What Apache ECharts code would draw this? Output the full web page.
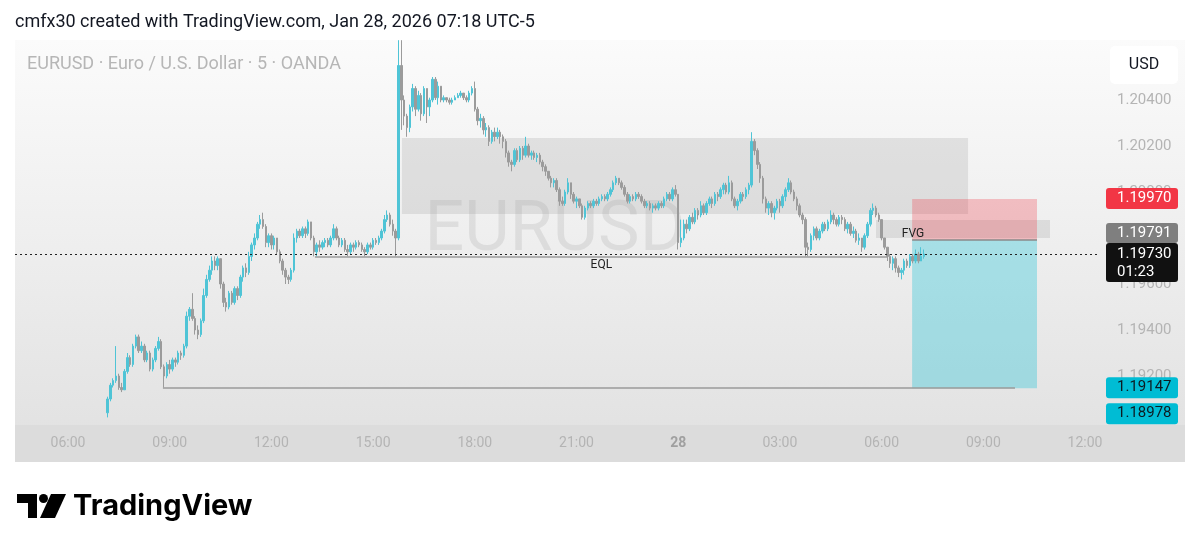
<!DOCTYPE html>
<html><head><meta charset="utf-8">
<script src="https://cdn.jsdelivr.net/npm/echarts@6/dist/echarts.min.js"></script>
<style>html,body{margin:0;padding:0;background:#fff;}#c{width:1200px;height:551px;}</style>
</head><body><div id="c"></div>
<script>
// ---- DATA (EURUSD 5-minute candles, prices stored as pips above BASE) ----
const BASE = 1.19, PIP = 0.0001;
const START_MIN = 430;      // first candle: Jan 27 07:10 (minutes from Jan 27 00:00)
const STEP_MIN = 5;
const firstOpenPips = 4;
const closePips = [
10,16,18,20,15,14,22,28,25,33,37,31,
33,27,30,23,27,32,35,24,20,25,23,27,
26,30,29,33,46,49,45,40,38,44,55,62,
66,70,68,71,60,52,50,56,52,58,55,63,
67,65,72,77,80,86,88,85,78,81,77,80,
74,70,66,63,62,66,80,83,81,84,82,87,
80,74,77,76,78,79,77,80,84,80,77,79,
75,74,77,76,78,77,75,74,77,76,79,78,
80,83,88,90,86,83,80,155,140,133,128,137,
145,136,142,134,145,137,140,149,141,146,140,141,
140,139,140,141,142,143,141,140,143,145,136,131,
132,127,128,122,126,124,126,124,122,117,113,112,
118,114,119,116,120,116,117,115,116,113,111,109,
106,104,105,101,96,95,100,104,99,96,97,94,
89,93,95,94,96,95,97,98,97,99,101,104,
106,104,102,99,96,98,97,99,98,96,94,95,
93,94,93,95,94,97,99,97,101,99,78,80,
86,84,89,87,92,90,94,91,95,97,95,99,
98,101,103,100,104,97,94,96,99,98,101,103,
122,118,112,106,97,93,95,91,93,96,94,98,
101,104,100,97,94,90,88,76,75,81,84,80,
83,86,84,87,90,88,86,89,88,84,86,82,
83,79,80,76,81,86,92,93,90,88,80,76,
72,69,71,67,65,66,70,68,72,70,73,70,72,73];
const highPips = [
11,17,19,33,21,17,23,30,29,34,38,38,
35,34,31,31,28,33,37,36,25,26,27,28,
28,31,31,34,48,50,56,46,42,45,58,64,
68,72,72,72,71,61,54,57,57,59,59,64,
68,69,74,78,82,87,90,91,86,82,82,81,
80,75,71,67,64,67,82,84,84,85,85,88,
87,81,78,79,79,80,80,81,86,85,81,80,
80,77,78,78,79,79,78,76,78,78,80,80,
81,84,90,92,91,88,84,166,166,142,134,138,
147,146,144,143,146,145,141,150,150,148,146,142,
141,141,141,142,143,144,143,142,144,146,148,137,
134,133,130,129,127,128,128,127,125,123,118,114,
119,119,120,120,124,121,118,118,117,117,114,112,
109,107,106,106,102,98,101,106,104,100,98,97,
95,94,96,96,97,97,98,99,99,100,102,105,
107,106,105,103,100,99,99,100,100,99,97,96,
96,95,95,96,96,98,100,100,102,103,99,88,
88,88,90,91,93,93,96,95,96,98,98,100,
100,102,104,104,107,105,98,97,100,100,102,104,
126,123,119,113,107,98,96,96,94,97,97,99,
102,106,105,101,98,95,91,89,78,82,85,85,
84,87,87,88,92,91,89,90,90,89,87,87,
85,84,82,80,82,87,93,95,94,91,88,80,
76,73,72,72,68,67,71,71,73,73,75,74,76,75];
const lowPips = [
2,9,15,17,14,13,14,21,24,24,32,30,
30,26,26,22,22,26,31,23,15,19,21,22,
24,25,27,28,32,44,44,38,36,37,43,54,
61,64,66,66,58,50,48,49,51,51,53,54,
61,63,64,70,75,79,84,84,76,76,75,75,
73,69,64,60,60,61,65,78,80,80,80,81,
79,72,72,74,75,76,76,76,79,79,76,76,
74,72,73,74,75,76,74,72,73,75,75,77,
77,79,82,87,85,81,72,79,127,129,124,126,
135,133,135,131,133,130,133,139,140,138,139,139,
139,138,138,140,141,141,140,139,139,142,135,129,
128,125,124,120,121,122,123,121,119,115,111,109,
111,113,113,114,115,115,114,114,113,112,109,107,
105,102,102,100,94,94,94,99,97,95,93,93,
88,88,92,93,93,94,94,96,96,96,98,100,
103,103,101,98,95,95,96,96,97,95,93,93,
92,91,92,92,93,93,96,96,96,98,75,76,
79,82,83,86,86,88,89,90,90,94,93,94,
96,97,99,99,99,96,93,92,95,96,97,99,
102,116,110,104,95,91,90,89,88,92,91,93,
96,100,99,96,92,89,86,72,72,74,79,79,
79,82,83,83,86,86,85,85,86,83,82,81,
80,78,77,74,75,80,85,90,89,87,79,75,
70,67,66,65,63,62,64,67,67,69,69,69,70,71];

const timeTicks  = [360,540,720,900,1080,1260,1440,1620,1800,1980,2160]; // 06:00 ... 12:00 (next day)
const priceTicks = [1.192,1.194,1.196,1.198,1.200,1.202,1.204];
const obZone   = [951, 1953, 1.19904, 1.20235];   // [t1, t2, priceLow, priceHigh]
const fvgZone  = [1790, 2098, 1.19800, 1.19878];
const eqlLine  = [797, 1811, 1.19717];
const lowLine  = [528, 2036, 1.19147];
const tradeBox = [1854, 2075];                    // time span of the position tool
const stopPrice = 1.19970, entryPrice = 1.19791, targetPrice = 1.19147;
const lastPrice = 1.19730, extraPrice = 1.18978;
const countdown = '01:23';

// ---- BUILD ----
const r5 = v => Math.round(v * 100000) / 100000;
const candles = closePips.map((c, i) => {
  const o = i === 0 ? firstOpenPips : closePips[i - 1];
  return [START_MIN + i * STEP_MIN, r5(BASE + o * PIP), r5(BASE + c * PIP), r5(BASE + lowPips[i] * PIP), r5(BASE + highPips[i] * PIP)];
});

const FONT = 'Roboto, "Noto Sans", sans-serif';
const UP = '#4fc4d6', DOWN = '#9b9b9b';
const X_MIN = 266.2, X_MAX = 2186.5;
const chart = echarts.init(document.getElementById('c'));

function fmtTime(v) {
  const m = ((v % 1440) + 1440) % 1440;
  if (m === 0) return '{d|' + (27 + Math.floor(v / 1440)) + '}';
  return String(Math.floor(m / 60)).padStart(2, '0') + ':' + String(m % 60).padStart(2, '0');
}

const option = {
  animation: false,
  backgroundColor: '#ffffff',
  grid: { left: 15, right: 100, top: 40, bottom: 126 },
  xAxis: {
    type: 'value', min: X_MIN, max: X_MAX,
    axisLine: { show: false }, axisTick: { show: false }, splitLine: { show: false },
    axisLabel: {
      customValues: timeTicks, formatter: fmtTime, color: '#b4b4b4', fontSize: 14,
      fontFamily: FONT, margin: 11,
      rich: { d: { fontWeight: 'bold', color: '#a0a0a0', fontSize: 14, fontFamily: FONT } }
    }
  },
  yAxis: {
    type: 'value', position: 'right', min: 1.1898696, max: 1.2066087, scale: true,
    axisLine: { show: false }, axisTick: { show: false }, splitLine: { show: false },
    axisLabel: {
      customValues: priceTicks, formatter: v => v.toFixed(5), color: '#b4b4b4',
      fontSize: 15, fontFamily: FONT, margin: 17
    }
  },
  series: [
    {
      type: 'line', name: 'zones', data: [], z: 1, silent: true,
      markArea: {
        silent: true, label: { show: false },
        data: [
          [{ coord: [obZone[0], obZone[3]], itemStyle: { color: 'rgba(150,150,150,0.22)' } }, { coord: [obZone[1], obZone[2]] }],
          [{ coord: [fvgZone[0], fvgZone[3]], itemStyle: { color: 'rgba(150,150,150,0.22)' } }, { coord: [fvgZone[1], fvgZone[2]] }],
          [{ coord: [tradeBox[0], stopPrice], itemStyle: { color: 'rgba(242,54,69,0.28)' } }, { coord: [tradeBox[1], entryPrice] }],
          [{ coord: [tradeBox[0], entryPrice], itemStyle: { color: 'rgba(0,188,212,0.30)' } }, { coord: [tradeBox[1], targetPrice] }]
        ]
      }
    },
    {
      type: 'candlestick', name: 'EURUSD', data: candles, z: 3,
      encode: { x: 0, y: [1, 2, 3, 4] },
      barWidth: 2, clip: true,
      itemStyle: { color: UP, color0: DOWN, borderColor: UP, borderColor0: DOWN, borderWidth: 1 }
    },
    {
      type: 'line', name: 'levels', data: [], z: 4, silent: true,
      markLine: {
        silent: true, symbol: ['none', 'none'], animation: false,
        label: { show: false },
        data: [
          [{ coord: [eqlLine[0], eqlLine[2]], lineStyle: { color: '#9a9a9a', width: 1.5, type: 'solid' },
             label: { show: true, formatter: 'EQL', position: 'insideMiddleBottom', color: '#222', fontSize: 12, fontFamily: FONT, distance: 2 } },
           { coord: [eqlLine[1], eqlLine[2]] }],
          [{ coord: [lowLine[0], lowLine[2]], lineStyle: { color: '#9a9a9a', width: 1.5, type: 'solid' } },
           { coord: [lowLine[1], lowLine[2]] }],
          [{ coord: [tradeBox[0], entryPrice], lineStyle: { color: '#8a8a8a', width: 1.5, type: 'solid' } },
           { coord: [tradeBox[1], entryPrice] }],
          [{ coord: [X_MIN, lastPrice], lineStyle: { color: '#222', width: 1, type: [2, 3] } },
           { coord: [X_MAX, lastPrice] }]
        ]
      }
    }
  ]
};
chart.setOption(option);

// ---- overlay texts / tags (positions derived from axis conversion) ----
const py = p => chart.convertToPixel({ yAxisIndex: 0 }, p);
const px = t => chart.convertToPixel({ xAxisIndex: 0 }, t);
const gridBottom = py(option.yAxis.min);
const TOP_Z = 100;

function tag(top, h, fill, texts, color) {
  const els = [{ type: 'rect', z: TOP_Z, shape: { x: 1106, y: top, width: 72, height: h, r: 3 }, style: { fill } }];
  texts.forEach(([s, y]) => els.push({
    type: 'text', z: TOP_Z + 1, x: 1117, y, style: { text: s, fill: color, font: '15px ' + FONT, align: 'left', verticalAlign: 'middle' }
  }));
  return els;
}

const yLast = py(lastPrice);
const blackTop = yLast - 11;
const grayTop = blackTop - 20;
const yStop = py(stopPrice);
const yTarget = py(targetPrice);
const cyan2Top = yTarget - 10 + 25;

const graphics = [
  // panel background
  { type: 'rect', z: -10, shape: { x: 15, y: 40, width: 1170, height: 422 },
    style: { fill: new echarts.graphic.LinearGradient(0, 0, 0, 1, [
      { offset: 0, color: '#fbfbfb' }, { offset: 0.9, color: '#e3e3e3' }, { offset: 1, color: '#e0e0e0' }]) } },
  { type: 'rect', z: -9, shape: { x: 15, y: gridBottom, width: 1170, height: 462 - gridBottom }, style: { fill: '#dcdcdc' } },
  // watermark
  { type: 'text', z: -5, x: 555, y: 232, style: { text: 'EURUSD', fill: 'rgba(0,0,0,0.075)', font: '70px ' + FONT, align: 'center', verticalAlign: 'middle' } },
  // header texts
  { type: 'text', z: TOP_Z, x: 15, y: 22, style: { text: 'cmfx30 created with TradingView.com, Jan 28, 2026 07:18 UTC-5', fill: '#131722', font: '18px ' + FONT, verticalAlign: 'middle' } },
  { type: 'text', z: TOP_Z, x: 27, y: 64, style: { text: 'EURUSD · Euro / U.S. Dollar · 5 · OANDA', fill: '#b6b6b6', font: '18px ' + FONT, verticalAlign: 'middle' } },
  // FVG label
  { type: 'text', z: TOP_Z, x: px(fvgZone[0]) + 37, y: py(fvgZone[2]) - 4, style: { text: 'FVG', fill: '#222', font: '12px ' + FONT, align: 'center', verticalAlign: 'middle' } },
  // USD box
  { type: 'rect', z: TOP_Z, shape: { x: 1110, y: 46, width: 68, height: 38, r: 5 }, style: { fill: '#ffffff' } },
  { type: 'text', z: TOP_Z + 1, x: 1144, y: 65, style: { text: 'USD', fill: '#131722', font: '16px ' + FONT, align: 'center', verticalAlign: 'middle' } },
  // price tags
  ...tag(yStop - 11, 21, '#f23645', [[stopPrice.toFixed(5), yStop - 0.5]], '#ffffff'),
  ...tag(grayTop, 20, '#7f7f7f', [[entryPrice.toFixed(5), grayTop + 10]], '#ffffff'),
  ...tag(blackTop, 39, '#111111', [[lastPrice.toFixed(5), blackTop + 11], [countdown, blackTop + 29]], '#ffffff'),
  ...tag(yTarget - 11, 21, '#00bcd4', [[targetPrice.toFixed(5), yTarget - 0.5]], '#0d1b22'),
  ...tag(cyan2Top, 21, '#00bcd4', [[extraPrice.toFixed(5), cyan2Top + 10.5]], '#0d1b22'),
  // TradingView logo
  { type: 'polygon', z: TOP_Z, shape: { points: [[17, 494], [37, 494], [37, 518], [28, 518], [28, 503], [17, 503]] }, style: { fill: '#000' } },
  { type: 'circle', z: TOP_Z, shape: { cx: 43.5, cy: 498.5, r: 4.5 }, style: { fill: '#000' } },
  { type: 'polygon', z: TOP_Z, shape: { points: [[51, 494], [66, 494], [55, 518], [40, 518]] }, style: { fill: '#000' } },
  { type: 'text', z: TOP_Z, x: 73, y: 506, style: { text: 'TradingView', fill: '#000', font: 'bold 29px Inter, ' + FONT, verticalAlign: 'middle' } }
];
chart.setOption({ graphic: graphics });
</script>
</body></html>
